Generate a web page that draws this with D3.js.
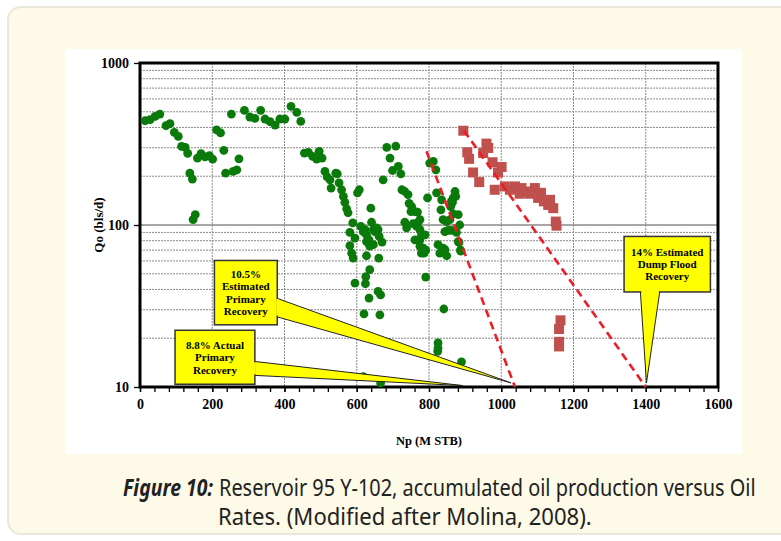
<!DOCTYPE html>
<html>
<head>
<meta charset="UTF-8">
<title>Reservoir 95 Y-102</title>
<script src="https://d3js.org/d3.v7.min.js"></script>
<style>
  body { margin: 0; background: #fff; }
  svg { display: block; }
</style>
</head>
<body>
<script>
// ---- data (Np in M STB, Qo in bls/d) ----
const primaryPoints = [
  [14,440],[28,447],[42,468],[55,484],[72,410],[83,422],[95,373],[106,352],[115,306],[125,301],
  [132,277],[138,209],[145,192],[147,108],[153,116],[159,259],[169,276],[180,263],[192,268],[201,255],
  [212,387],[223,370],[232,289],[237,209],[258,214],[268,219],[274,256],[253,484],[289,510],[304,464],
  [318,455],[334,510],[346,451],[360,434],[374,414],[387,451],[401,451],[418,540],[434,496],[445,436],
  [455,278],[466,281],[478,265],[489,255],[496,285],[504,259],[512,214],[518,198],[526,190],[529,169],
  [542,209],[546,207],[551,182],[558,165],[563,150],[567,138],[572,126],[576,119],[589,103],[581,90],
  [595,83],[581,74.5],[586,67],[590,62.5],[595,43.8],[602,158],[607,165],[611,98],[618,91],[627,87],
  [634,81],[641,104],[639,127],[650,91],[659,93.5],[670,78.5],[623,93.5],[646,93.5],[655,96],[662,85],
  [636,74],[646,75.6],[627,79],[627,64.6],[661,62.5],[636,53],[625,48],[624,43.4],[634,35.4],[620,28.3],
  [664,27.9],[659,38.9],[666,37],[666,10.6],[618,11.6],[673,190],[683,301],[708,307],[692,259],[699,217],
  [715,230],[722,207],[725,165],[733,161],[742,154],[745,136],[752,130],[750,121],[761,121],[768,120],
  [733,104],[738,96],[756,102],[766,98],[770,104],[775,93.5],[761,81],[775,81],[775,74],[784,72],
  [791,70],[779,67],[789,87],[791,47.7],[796,147],[802,241],[812,247],[819,219],[821,158],[835,143],
  [833,124],[839,108],[849,105],[858,108],[853,92.6],[862,92.6],[844,91],[825,75.6],[839,72],[830,67],
  [849,64.6],[844,70.4],[872,161],[867,147],[862,140],[867,117],[881,116],[885,100],[876,90],[881,79],
  [887,70],[841,30.3],[825,18.7],[825,17.4],[824,16.6],[890,14.3],[775,108],[779,87],[786,67],[874,150],
  [865,138],[860,130],[883,78],[888,69]
];
const floodPoints = [
  [895,382],[906,281],[911,256],[959,318],[964,299],[950,278],[976,244],[1001,228],[991,211],[922,211],
  [939,184],[982,165],[1010,173],[1038,173],[1056,169],[1070,161],[1093,169],[1102,147],[1118,140],[1130,133],
  [1144,127],[1151,105],[1153,99],[1024,165],[1051,156],[1079,156],[1110,158],[1135,143],
  [1164,25.8],[1160,22.8],[1160,19],[1160,17.8]
];
const primaryTrend = [[793,285],[1038,10]];
const floodTrend = [[897,382],[1400,10]];

const xTicks = [0,200,400,600,800,1000,1200,1400,1600];
const yTicks = [10,100,1000];

// callouts: text lines, box [np0, np1, qTop, qBottom], pointer base, tip
const callouts = [
  { lines: ["10.5%","Estimated","Primary","Recovery"], box: [206,380,60.4,24.2],
    side: "right", base: [35.4,27.2], tip: [1027,10.6] },
  { lines: ["8.8% Actual","Primary","Recovery"], box: [97,318,22.4,10.4],
    side: "right", base: [14.4,11.8], tip: [894,10.2] },
  { lines: ["14% Estimated","Dump Flood","Recovery"], box: [1340,1579,85,38.6],
    side: "bottom", base: [1385,1439], tip: [1402,10.6] }
];

const captionBold = "Figure 10:";
const captionLine1 = "Reservoir 95 Y-102, accumulated oil production versus Oil";
const captionLine2 = "Rates. (Modified after Molina, 2008).";

// ---- layout ----
const W = 781, H = 541;
const svg = d3.select("body").append("svg").attr("width", W).attr("height", H);

// card background
svg.append("rect")
  .attr("x", 8).attr("y", 7).attr("width", 820).attr("height", 527).attr("rx", 13)
  .attr("fill", "#fefae8").attr("stroke", "#ebe7da").attr("stroke-width", 2);

// white figure panel
svg.append("rect")
  .attr("x", 65).attr("y", 49).attr("width", 677).attr("height", 405)
  .attr("fill", "#fff");

const x = d3.scaleLinear().domain([0, 1600]).range([140, 718]);
const y = d3.scaleLog().domain([10, 1000]).range([387, 63]);

// gridlines
const hMinor = [];
[10, 100].forEach(d => { for (let k = 2; k <= 9; k++) hMinor.push(d * k); });
svg.append("g").selectAll("line").data(hMinor).join("line")
  .attr("x1", x(0)).attr("x2", x(1600))
  .attr("y1", d => y(d)).attr("y2", d => y(d))
  .attr("stroke", "#8a8a8a").attr("stroke-width", 1).attr("stroke-dasharray", "2,1");
svg.append("line")
  .attr("x1", x(0)).attr("x2", x(1600)).attr("y1", y(100)).attr("y2", y(100))
  .attr("stroke", "#8a8a8a").attr("stroke-width", 1.6);
svg.append("g").selectAll("line").data(xTicks.slice(1, -1)).join("line")
  .attr("x1", d => x(d)).attr("x2", d => x(d))
  .attr("y1", y(1000)).attr("y2", y(10))
  .attr("stroke", "#8a8a8a").attr("stroke-width", 1).attr("stroke-dasharray", "2,1");

// axes
const tickFont = "'Liberation Serif', 'Times New Roman', serif";
const xMinor = svg.append("g").attr("transform", `translate(0,${y(10)})`)
  .call(d3.axisBottom(x).tickValues(d3.range(0, 1601, 40)).tickSize(5).tickFormat(""));
const xAxis = svg.append("g").attr("transform", `translate(0,${y(10)})`)
  .call(d3.axisBottom(x).tickValues(xTicks).tickFormat(d3.format("d")).tickSize(5).tickPadding(7));
const yAxis = svg.append("g").attr("transform", `translate(${x(0)},0)`)
  .call(d3.axisLeft(y).tickValues(yTicks).tickFormat(d3.format("d")).tickSize(6).tickPadding(5));
[xMinor, xAxis, yAxis].forEach(g => {
  g.attr("font-family", tickFont);
  g.select(".domain").remove();
  g.selectAll(".tick line").attr("stroke", "#000").attr("stroke-width", 1.3);
  g.selectAll("text").attr("font-family", tickFont).attr("font-weight", "bold")
    .attr("font-size", 14).attr("fill", "#000");
});

// frame
svg.append("rect")
  .attr("x", x(0)).attr("y", y(1000)).attr("width", x(1600) - x(0)).attr("height", y(10) - y(1000))
  .attr("fill", "none").attr("stroke", "#000").attr("stroke-width", 3);

// axis titles
svg.append("text")
  .attr("transform", `translate(98,${(y(10) + y(1000)) / 2}) rotate(-90)`)
  .attr("text-anchor", "middle").attr("dy", "0.35em")
  .attr("font-family", tickFont).attr("font-weight", "bold").attr("font-size", 13)
  .text("Qo (bls/d)");
svg.append("text")
  .attr("x", (x(0) + x(1600)) / 2).attr("y", 445).attr("text-anchor", "middle")
  .attr("font-family", tickFont).attr("font-weight", "bold").attr("font-size", 12.5)
  .text("Np (M STB)");

// scatter
svg.append("g").selectAll("circle").data(primaryPoints).join("circle")
  .attr("cx", d => x(d[0])).attr("cy", d => y(d[1])).attr("r", 4.4)
  .attr("fill", "#0a7a0a");
const sq = 10;
svg.append("g").selectAll("rect").data(floodPoints).join("rect")
  .attr("x", d => x(d[0]) - sq / 2).attr("y", d => y(d[1]) - sq / 2)
  .attr("width", sq).attr("height", sq)
  .attr("fill", "#c0504d");

// trend lines
const line = d3.line().x(d => x(d[0])).y(d => y(d[1]));
[primaryTrend, floodTrend].forEach(t => {
  svg.append("path").attr("d", line(t))
    .attr("fill", "none").attr("stroke", "#ee1c24").attr("stroke-width", 2.6)
    .attr("stroke-dasharray", "8,5");
});

// callouts
callouts.forEach(c => {
  const [n0, n1, qt, qb] = c.box;
  const bx0 = x(n0), bx1 = x(n1), by0 = y(qt), by1 = y(qb);
  const tip = [x(c.tip[0]), y(c.tip[1])];
  let pts;
  if (c.side === "right") {
    pts = [[bx1 - 1, y(c.base[0])], tip, [bx1 - 1, y(c.base[1])]];
  } else {
    pts = [[x(c.base[0]), by1 - 1], tip, [x(c.base[1]), by1 - 1]];
  }
  const g = svg.append("g");
  g.append("polygon").attr("points", pts.map(p => p.join(",")).join(" "))
    .attr("fill", "#ffff00").attr("stroke", "#222").attr("stroke-width", 1);
  g.append("rect").attr("x", bx0).attr("y", by0).attr("width", bx1 - bx0).attr("height", by1 - by0)
    .attr("fill", "#ffff00").attr("stroke", "#333").attr("stroke-width", 1.5);
  // cover the seam where the pointer meets the box
  if (c.side === "right") {
    g.append("line").attr("x1", bx1).attr("x2", bx1)
      .attr("y1", y(c.base[0]) + 1).attr("y2", y(c.base[1]) - 1)
      .attr("stroke", "#ffff00").attr("stroke-width", 2);
  } else {
    g.append("line").attr("y1", by1).attr("y2", by1)
      .attr("x1", x(c.base[0]) + 1).attr("x2", x(c.base[1]) - 1)
      .attr("stroke", "#ffff00").attr("stroke-width", 2);
  }
  const lh = 12.4;
  const cy = (by0 + by1) / 2 - (c.lines.length - 1) * lh / 2;
  g.append("text").attr("text-anchor", "middle")
    .attr("font-family", tickFont).attr("font-weight", "bold").attr("font-size", 11)
    .selectAll("tspan").data(c.lines).join("tspan")
    .attr("x", (bx0 + bx1) / 2).attr("y", (d, i) => cy + i * lh).attr("dy", "0.35em")
    .text(d => d);
});

// caption: narrow look by squeezing each run horizontally to its measured width
const capFont = "'Liberation Sans Narrow', 'Noto Sans', sans-serif";
function captionText(str, x0, y0, width, bold) {
  const t = svg.append("text")
    .attr("font-family", capFont).attr("font-size", 23).attr("fill", "#222")
    .attr("font-weight", bold ? "bold" : "normal")
    .attr("font-style", bold ? "italic" : "normal")
    .text(str);
  const natural = t.node().getComputedTextLength();
  t.attr("transform", `translate(${x0},${y0}) scale(${width / natural},1)`);
}
captionText(captionBold, 123, 496, 90, true);
captionText(captionLine1, 219, 496, 537, false);
captionText(captionLine2, 218, 525, 374, false);
</script>
</body>
</html>
